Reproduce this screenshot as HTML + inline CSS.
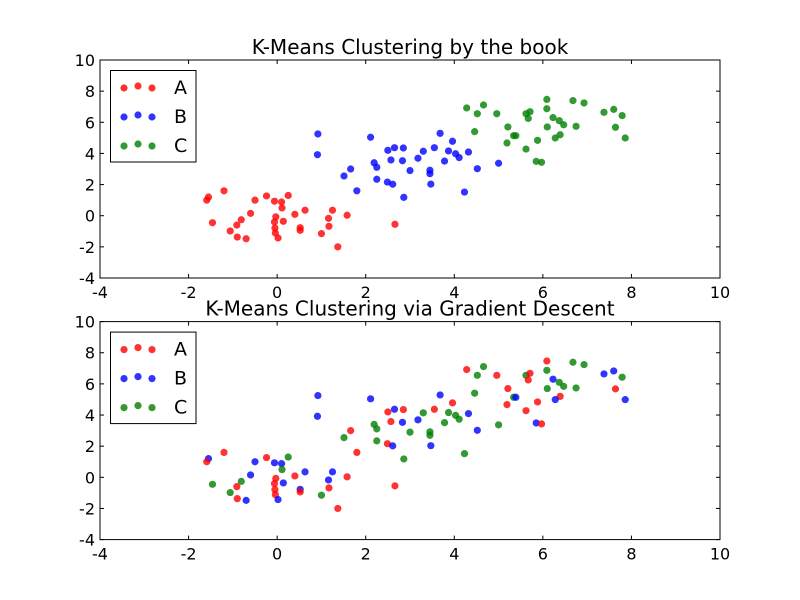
<!DOCTYPE html>
<html><head><meta charset="utf-8"><style>
html,body{margin:0;padding:0;background:#fff;}
svg{display:block;font-family:"DejaVu Sans","Liberation Sans",sans-serif;}
</style></head><body>
<svg id="chart" width="800" height="600" xmlns="http://www.w3.org/2000/svg">
<rect width="800" height="600" fill="#fff"/>
</svg>
<script>
const xs=[-1.55,-1.59,-1.2,-1.46,-0.5,-0.24,-0.06,0.10,0.11,0.25,-0.6,-0.81,-0.91,-1.06,-0.9,-0.7,-0.03,-0.06,0.14,-0.05,-0.04,0.02,0.40,0.63,0.52,0.52,1.0,1.16,1.17,1.25,1.58,1.37,2.66,
0.92,0.91,2.11,1.51,1.66,1.8,2.19,2.25,2.25,2.49,2.61,2.5,2.65,2.85,2.57,2.83,3.0,2.86,3.18,3.3,3.55,3.68,3.45,3.45,3.47,3.78,3.87,3.96,4.03,4.11,4.32,4.52,5.0,4.23,
4.28,4.66,4.52,4.96,4.46,5.21,5.34,5.39,5.19,5.62,5.71,5.67,5.62,5.88,5.85,5.97,6.09,6.09,6.23,6.37,6.47,6.1,6.39,6.28,6.75,6.68,6.93,7.38,7.6,7.79,7.64,7.86];
const ys=[1.2,1.0,1.6,-0.45,1.0,1.27,0.93,0.88,0.5,1.3,0.15,-0.26,-0.6,-0.98,-1.37,-1.48,-0.07,-0.4,-0.36,-0.79,-1.11,-1.43,0.09,0.35,-0.77,-0.94,-1.15,-0.17,-0.68,0.35,0.03,-2.0,-0.55,
5.25,3.92,5.04,2.55,3.0,1.6,3.4,3.11,2.34,2.16,2.02,4.2,4.37,4.35,3.58,3.53,2.9,1.18,3.69,4.14,4.37,5.29,2.92,2.7,2.03,3.51,4.16,4.78,3.98,3.73,4.09,3.02,3.37,1.52,
6.92,7.11,6.55,6.55,5.4,5.7,5.14,5.14,4.67,6.55,6.68,6.25,4.28,4.84,3.49,3.43,7.47,6.87,6.3,6.1,5.84,5.7,5.2,4.99,5.74,7.39,7.24,6.64,6.83,6.43,5.68,4.99];
const labelsTop=["A","A","A","A","A","A","A","A","A","A","A","A","A","A","A","A","A","A","A","A","A","A","A","A","A","A","A","A","A","A","A","A","A",
"B","B","B","B","B","B","B","B","B","B","B","B","B","B","B","B","B","B","B","B","B","B","B","B","B","B","B","B","B","B","B","B","B","B",
"C","C","C","C","C","C","C","C","C","C","C","C","C","C","C","C","C","C","C","C","C","C","C","C","C","C","C","C","C","C","C","C"];
const labelsBottom=["B","A","A","C","B","A","B","B","C","C","B","C","A","C","A","B","A","A","B","A","A","B","A","B","B","A","C","B","A","B","A","A","A",
"B","B","B","C","A","A","C","C","C","A","B","A","B","A","A","B","C","C","B","C","A","B","C","C","B","C","C","A","C","C","B","B","C","C",
"A","C","C","A","C","A","C","B","A","C","A","A","A","A","B","A","A","C","B","C","C","C","A","B","C","C","C","B","B","C","A","B"];
const xTicks=[-4,-2,0,2,4,6,8,10];
const yTicks=[-4,-2,0,2,4,6,8,10];
const titles=["K-Means Clustering by the book","K-Means Clustering via Gradient Descent"];
const legendLabels=["A","B","C"];
const colors={A:"#ff0000",B:"#0000ff",C:"#008000"};

const NS="http://www.w3.org/2000/svg";
const svg=document.getElementById('chart');
function el(tag,attrs,parent){const e=document.createElementNS(NS,tag);for(const k in attrs)e.setAttribute(k,attrs[k]);(parent||svg).appendChild(e);return e;}
const L=100,R=720,H=218;
const tops=[60,321.6];
function sx(v){return L+(v-(-4))/14*(R-L);}
function drawPanel(p,labels){
  const T=tops[p],B=T+H;
  const sy=v=>B-(v-(-4))/14*H;
  const g=el('g',{});
  
  
  for(let i=0;i<xs.length;i++){
    const c=el('circle',{cx:sx(xs[i]),cy:sy(ys[i]),r:3.6,fill:colors[labels[i]],'fill-opacity':0.8},g);
    
    
  }
  const fr=el('rect',{x:L,y:T,width:R-L,height:H,fill:'none',stroke:'#000','stroke-width':1},g);
  
  
  xTicks.forEach(t=>{
    const x=sx(t);
    el('line',{x1:x,x2:x,y1:B,y2:B-4,stroke:'#000'},g);
    el('line',{x1:x,x2:x,y1:T,y2:T+4,stroke:'#000'},g);
    const tx=el('text',{x:x,y:B+20,'font-size':16,'text-anchor':'middle'},g);
    tx.textContent=t;
    
    
  });
  yTicks.forEach(t=>{
    const y=sy(t);
    el('line',{x1:L,x2:L+4,y1:y,y2:y,stroke:'#000'},g);
    el('line',{x1:R,x2:R-4,y1:y,y2:y,stroke:'#000'},g);
    const tx=el('text',{x:L-5,y:y+6,'font-size':16,'text-anchor':'end'},g);
    tx.textContent=t;
    
    
  });
  const ti=el('text',{x:410,y:T-6,'font-size':20,'text-anchor':'middle'},g);
  ti.textContent=titles[p];
  
  
  const lg=el('g',{},g);
  
  
  el('rect',{x:110.5,y:T+10.5,width:85.5,height:91.5,fill:'#fff',stroke:'#000','stroke-width':1},lg);
  legendLabels.forEach((lab,k)=>{
    const y=T+27+k*29;
    const en=el('g',{},lg);
    
    
    [[124,1],[138,-1],[152,1]].forEach(([x,d])=>el('circle',{cx:x,cy:y+d,r:3.6,fill:colors[lab],'fill-opacity':0.8},en));
    const t=el('text',{x:174,y:y+7,'font-size':19},en);
    t.textContent=lab;
  });
}
drawPanel(0,labelsTop);
drawPanel(1,labelsBottom);
</script>
</body></html>
